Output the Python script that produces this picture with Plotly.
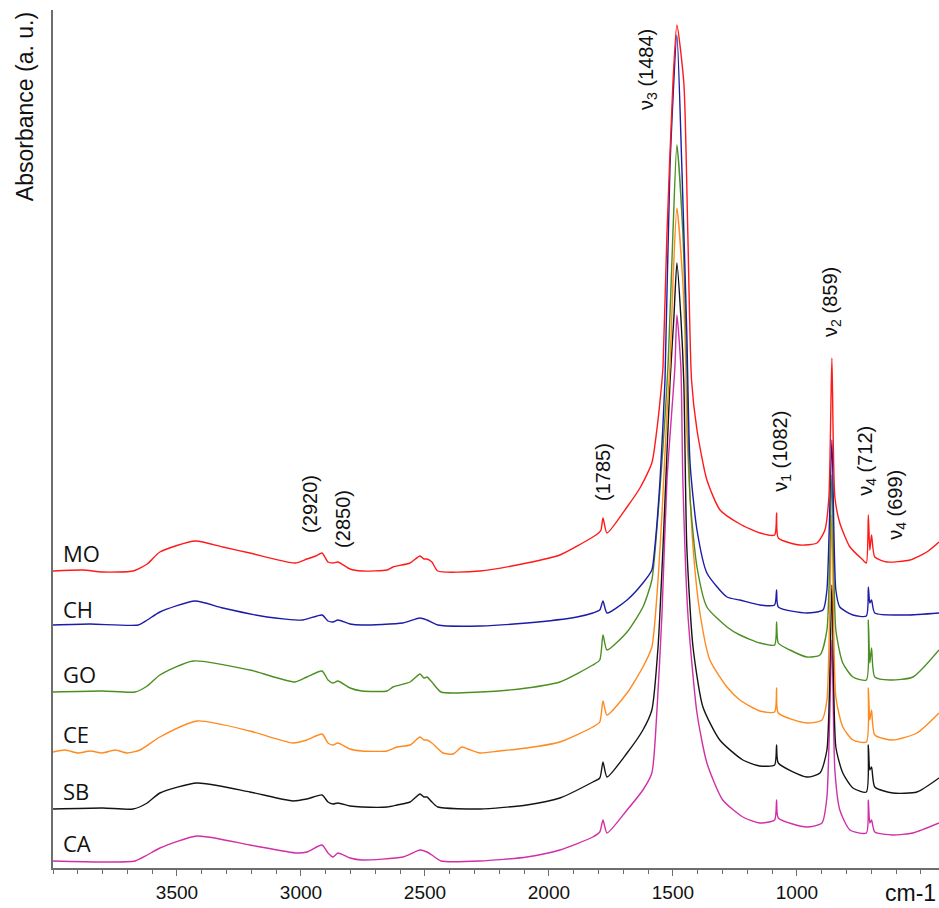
import plotly.graph_objects as go

# ---------------- data (wavenumber cm-1, absorbance a.u.) ----------------
MO_WN = [4000, 3880, 3800, 3677, 3620, 3569, 3427, 3315, 3206, 3024, 2976, 2940, 2915, 2891, 2871, 2851, 2802, 2754, 2653, 2629, 2560, 2520, 2504, 2492, 2472, 2448, 2278, 2089, 1956, 1823, 1800, 1790, 1782, 1766, 1685, 1633, 1585, 1565, 1544, 1540, 1524, 1500, 1484, 1456, 1440, 1425, 1403, 1363, 1310, 1230, 1149, 1090, 1082, 1075, 988, 919, 887, 871, 859, 847, 827, 786, 734, 720, 712, 706, 699, 686, 637, 544, 476, 427]
MO_ABS = [297, 298, 296, 297, 304, 316, 327, 321, 315, 305, 309, 312, 315, 306, 305, 306, 299, 297, 298, 301, 305, 312, 309, 309, 306, 297, 297, 305, 313, 331, 335, 338, 350, 335, 361, 380, 405, 438, 488, 501, 635, 785, 843, 785, 635, 488, 438, 388, 358, 344, 335, 333, 355, 330, 323, 325, 338, 371, 510, 371, 345, 321, 308, 305, 353, 318, 333, 311, 306, 308, 316, 326]

CH_WN = [4000, 3850, 3657, 3620, 3569, 3427, 3315, 3137, 2992, 2915, 2891, 2871, 2851, 2802, 2754, 2589, 2520, 2492, 2448, 2278, 2089, 1887, 1823, 1795, 1782, 1766, 1685, 1621, 1585, 1573, 1552, 1532, 1512, 1484, 1464, 1444, 1431, 1403, 1363, 1282, 1230, 1149, 1090, 1082, 1075, 960, 895, 879, 859, 843, 827, 774, 720, 712, 706, 699, 686, 557, 427]
CH_ABS = [243, 244, 243, 248, 256, 267, 260, 251, 248, 253, 247, 246, 248, 244, 243, 245, 250, 248, 243, 242, 245, 251, 255, 258, 267, 255, 268, 285, 298, 321, 388, 488, 701, 833, 701, 535, 405, 338, 295, 271, 268, 263, 263, 278, 261, 255, 258, 278, 428, 278, 261, 253, 252, 281, 265, 268, 255, 253, 255]

GO_WN = [4000, 3800, 3669, 3620, 3569, 3435, 3206, 3024, 2976, 2915, 2891, 2871, 2851, 2802, 2754, 2653, 2629, 2560, 2520, 2504, 2492, 2472, 2435, 2278, 2089, 1956, 1823, 1795, 1782, 1766, 1685, 1621, 1585, 1565, 1540, 1520, 1500, 1484, 1460, 1444, 1431, 1403, 1363, 1282, 1230, 1149, 1090, 1082, 1075, 1028, 960, 907, 879, 859, 843, 815, 774, 720, 712, 706, 699, 686, 625, 532, 427]
GO_ABS = [176, 177, 176, 182, 193, 207, 198, 186, 191, 197, 188, 185, 187, 180, 177, 177, 181, 186, 194, 190, 191, 186, 176, 176, 180, 186, 203, 208, 233, 218, 236, 261, 288, 338, 421, 501, 635, 723, 635, 501, 371, 301, 261, 241, 233, 225, 223, 246, 225, 218, 211, 213, 238, 393, 238, 205, 191, 188, 248, 205, 220, 191, 188, 191, 218]

CE_WN = [4000, 3950, 3900, 3850, 3800, 3750, 3700, 3649, 3569, 3419, 3206, 3032, 2976, 2915, 2891, 2871, 2851, 2802, 2754, 2653, 2613, 2560, 2520, 2504, 2492, 2472, 2427, 2387, 2351, 2327, 2278, 2200, 2089, 1956, 1823, 1795, 1782, 1766, 1685, 1621, 1585, 1565, 1544, 1524, 1512, 1500, 1484, 1460, 1448, 1444, 1419, 1391, 1351, 1282, 1230, 1149, 1090, 1082, 1075, 960, 899, 879, 859, 843, 815, 774, 720, 712, 706, 699, 686, 613, 516, 427]
CE_ABS = [116, 118, 115, 117, 115, 118, 115, 118, 131, 147, 137, 125, 128, 134, 125, 123, 125, 119, 117, 117, 121, 123, 131, 128, 128, 125, 115, 114, 121, 119, 115, 117, 120, 126, 141, 146, 167, 153, 175, 201, 221, 271, 355, 455, 501, 585, 660, 585, 501, 438, 321, 255, 208, 181, 168, 157, 156, 180, 155, 145, 148, 168, 353, 171, 141, 128, 126, 180, 148, 158, 133, 128, 135, 155]

SB_WN = [4000, 3800, 3677, 3620, 3569, 3419, 3206, 3032, 2976, 2915, 2891, 2871, 2851, 2802, 2754, 2653, 2613, 2560, 2520, 2504, 2492, 2472, 2448, 2278, 2089, 1956, 1823, 1795, 1782, 1766, 1685, 1621, 1585, 1560, 1540, 1512, 1496, 1484, 1468, 1456, 1444, 1419, 1379, 1311, 1218, 1149, 1090, 1082, 1075, 960, 907, 879, 859, 843, 815, 774, 720, 712, 706, 699, 686, 613, 516, 427]
SB_ABS = [59, 60, 59, 65, 75, 85, 76, 67, 69, 73, 66, 64, 65, 62, 61, 61, 63, 66, 74, 71, 71, 66, 61, 59, 63, 70, 86, 90, 106, 91, 115, 138, 158, 221, 321, 485, 551, 605, 551, 485, 321, 221, 161, 128, 108, 102, 103, 123, 105, 91, 95, 118, 283, 121, 95, 80, 76, 123, 98, 101, 81, 75, 76, 90]

CA_WN = [4000, 3800, 3669, 3620, 3569, 3419, 3206, 3016, 2976, 2915, 2891, 2871, 2851, 2802, 2754, 2589, 2520, 2492, 2472, 2435, 2278, 2089, 1956, 1823, 1795, 1782, 1766, 1685, 1621, 1585, 1565, 1544, 1524, 1492, 1484, 1468, 1460, 1440, 1403, 1363, 1299, 1218, 1149, 1090, 1082, 1075, 960, 899, 879, 859, 847, 827, 786, 720, 712, 706, 699, 686, 613, 532, 427]
CA_ABS = [7, 6, 7, 13, 20, 32, 23, 15, 16, 23, 15, 11, 15, 10, 8, 11, 18, 16, 13, 7, 7, 11, 18, 31, 36, 48, 35, 58, 78, 95, 155, 255, 388, 501, 553, 501, 388, 255, 155, 105, 68, 51, 45, 48, 68, 50, 41, 45, 71, 228, 98, 58, 38, 35, 68, 45, 48, 36, 33, 35, 45]

SAMPLES = ["CA", "SB", "CE", "GO", "CH", "MO"]
COLORS = ["#d12fa6", "#141414", "#ff8a1e", "#4b8e22", "#1c1ca8", "#ff1a1a"]
SERIES = [(CA_WN, CA_ABS), (SB_WN, SB_ABS), (CE_WN, CE_ABS),
          (GO_WN, GO_ABS), (CH_WN, CH_ABS), (MO_WN, MO_ABS)]

TICK_VALS = [3500, 3000, 2500, 2000, 1500, 1000]
TICK_TEXT = ["3500", "3000", "2500", "2000", "1500", "1000"]

PEAK_LABELS = ["(2920)", "(2850)", "(1785)", "ν<sub>3</sub> (1484)", "ν<sub>2</sub> (859)",
               "ν<sub>1</sub> (1082)", "ν<sub>4</sub> (712)", "ν<sub>4</sub> (699)"]

# ---------------- figure ----------------
fig = go.Figure()
for name, col, (wn, ab) in zip(SAMPLES, COLORS, SERIES):
    assert len(wn) == len(ab), name
    fig.add_trace(go.Scatter(x=wn, y=ab, mode="lines", name=name,
                             line=dict(color=col, width=1.4, shape="spline", smoothing=0.6),
                             showlegend=False))

X_RANGE = [4000, 427]
Y_RANGE = [0, 858]

# peak label positions (wavenumber, absorbance-axis) -- layout only
peak_pos = [(2964, 364), (2831, 349), (1782, 396), (1605, 799), (863, 566),
            (1065, 417), (722, 407), (601, 363)]
annotations = []
for txt, (px, py) in zip(PEAK_LABELS, peak_pos):
    annotations.append(dict(x=px, y=py, xref="x", yref="y", text=txt, textangle=-90,
                            showarrow=False, xanchor="center", yanchor="middle",
                            font=dict(family="Liberation Sans, Arial", size=20, color="#111")))

# sample labels
label_y = {"MO": 315, "CH": 259, "GO": 194, "CE": 134, "SB": 77, "CA": 25}
for name in SAMPLES:
    annotations.append(dict(x=0.009, y=label_y[name], xref="paper", yref="y", text=name,
                            showarrow=False, xanchor="left", yanchor="middle",
                            font=dict(family="Open Sans, Lato, sans-serif", size=22, color="#111")))

# y-axis title at top-left
annotations.append(dict(x=-0.032, y=1.0, xref="paper", yref="paper",
                        text="Absorbance (a. u.)", textangle=-90, showarrow=False,
                        xanchor="center", yanchor="top",
                        font=dict(family="Liberation Sans, Arial", size=23, color="#111")))
# x unit
annotations.append(dict(x=0.968, y=0, xref="paper", yref="paper", text="cm-1",
                        showarrow=False, xanchor="center", yanchor="top", yshift=-10,
                        font=dict(family="Liberation Sans, Arial", size=23, color="#111")))

fig.update_layout(
    width=939, height=908,
    margin=dict(l=53, r=0, t=10, b=40),
    paper_bgcolor="white", plot_bgcolor="white",
    annotations=annotations,
    xaxis=dict(range=X_RANGE, showgrid=False, zeroline=False, showline=True,
               linecolor="#6e6e6e", linewidth=1.5, ticks="outside", ticklen=6,
               tickcolor="#6e6e6e", tickwidth=1.2,
               tickvals=TICK_VALS, ticktext=TICK_TEXT,
               tickfont=dict(family="Liberation Sans Narrow, Liberation Sans, Arial", size=19, color="#111"),
               minor=dict(dtick=100, tick0=0, ticks="outside", ticklen=4,
                          tickcolor="#6e6e6e", tickwidth=1)),
    yaxis=dict(range=Y_RANGE, showgrid=False, zeroline=False, showline=True,
               linecolor="#6e6e6e", linewidth=1.5, ticks="", showticklabels=False),
)

fig.write_html("out.html")
